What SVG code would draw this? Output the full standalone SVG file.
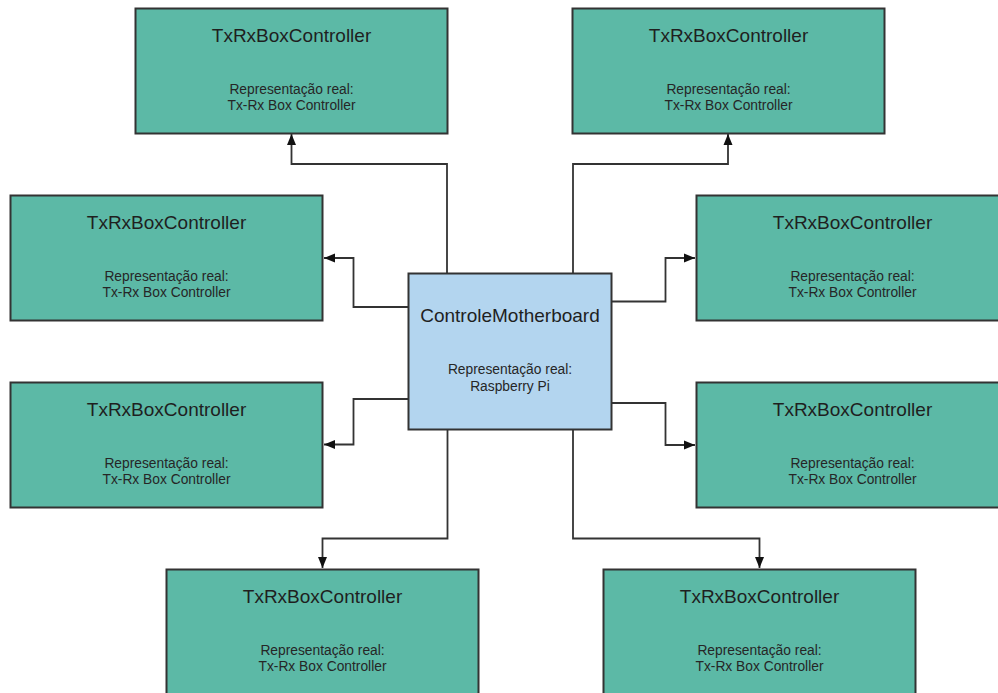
<svg xmlns="http://www.w3.org/2000/svg" width="998" height="693" viewBox="0 0 998 693">
<style>
.box{fill:#5cb9a6;stroke:#333;stroke-width:2}
.main{fill:#b3d5ef;stroke:#333;stroke-width:2}
.t{font-family:"Liberation Sans",Arial,sans-serif;font-size:19px;fill:#1f1f1f;text-anchor:middle}
.s{font-family:"Liberation Sans",Arial,sans-serif;font-size:13.8px;fill:#262626;text-anchor:middle}
.c{fill:none;stroke:#333;stroke-width:1.8}
</style>
<defs>
<marker id="arr" viewBox="0 0 11 10" refX="11" refY="5" markerWidth="11" markerHeight="10" markerUnits="userSpaceOnUse" orient="auto">
<path d="M0,0.5 L11,5 L0,9.5 Z" fill="#111"/>
</marker>
</defs>
<rect width="998" height="693" fill="#fff"/>
<g id="connectors">
<path class="c" marker-end="url(#arr)" d="M447,273 V164 H291.5 V134"/>
<path class="c" marker-end="url(#arr)" d="M573,273 V164 H728 V134"/>
<path class="c" marker-end="url(#arr)" d="M408,307 H353.5 V258 H324"/>
<path class="c" marker-end="url(#arr)" d="M612,301.5 H665.5 V258 H695"/>
<path class="c" marker-end="url(#arr)" d="M408,399 H353.5 V444.5 H324"/>
<path class="c" marker-end="url(#arr)" d="M612,403 H665.5 V445 H695"/>
<path class="c" marker-end="url(#arr)" d="M447.5,429 V538.5 H322.5 V568"/>
<path class="c" marker-end="url(#arr)" d="M573,429 V538.5 H759.5 V568"/>
</g>
<g id="motherboard">
<rect class="main" x="408.5" y="273.5" width="203" height="156"/>
<text class="t" x="510" y="322">ControleMotherboard</text>
<text class="s" x="510" y="374">Representação real:</text>
<text class="s" x="510" y="391">Raspberry Pi</text>
</g>
<g id="txrx1">
<rect class="box" x="135.5" y="8.5" width="312" height="125"/>
<text class="t" x="291.5" y="42">TxRxBoxController</text>
<text class="s" x="291.5" y="94">Representação real:</text>
<text class="s" x="291.5" y="110">Tx-Rx Box Controller</text>
</g>
<g id="txrx2">
<rect class="box" x="572.5" y="8.5" width="312" height="125"/>
<text class="t" x="728.5" y="42">TxRxBoxController</text>
<text class="s" x="728.5" y="94">Representação real:</text>
<text class="s" x="728.5" y="110">Tx-Rx Box Controller</text>
</g>
<g id="txrx3">
<rect class="box" x="10.5" y="195.5" width="312" height="125"/>
<text class="t" x="166.5" y="229">TxRxBoxController</text>
<text class="s" x="166.5" y="281">Representação real:</text>
<text class="s" x="166.5" y="297">Tx-Rx Box Controller</text>
</g>
<g id="txrx4">
<rect class="box" x="696.5" y="195.5" width="312" height="125"/>
<text class="t" x="852.5" y="229">TxRxBoxController</text>
<text class="s" x="852.5" y="281">Representação real:</text>
<text class="s" x="852.5" y="297">Tx-Rx Box Controller</text>
</g>
<g id="txrx5">
<rect class="box" x="10.5" y="382.5" width="312" height="125"/>
<text class="t" x="166.5" y="416">TxRxBoxController</text>
<text class="s" x="166.5" y="468">Representação real:</text>
<text class="s" x="166.5" y="484">Tx-Rx Box Controller</text>
</g>
<g id="txrx6">
<rect class="box" x="696.5" y="382.5" width="312" height="125"/>
<text class="t" x="852.5" y="416">TxRxBoxController</text>
<text class="s" x="852.5" y="468">Representação real:</text>
<text class="s" x="852.5" y="484">Tx-Rx Box Controller</text>
</g>
<g id="txrx7">
<rect class="box" x="166.5" y="569.5" width="312" height="125"/>
<text class="t" x="322.5" y="603">TxRxBoxController</text>
<text class="s" x="322.5" y="655">Representação real:</text>
<text class="s" x="322.5" y="671">Tx-Rx Box Controller</text>
</g>
<g id="txrx8">
<rect class="box" x="603.5" y="569.5" width="312" height="125"/>
<text class="t" x="759.5" y="603">TxRxBoxController</text>
<text class="s" x="759.5" y="655">Representação real:</text>
<text class="s" x="759.5" y="671">Tx-Rx Box Controller</text>
</g>
</svg>
